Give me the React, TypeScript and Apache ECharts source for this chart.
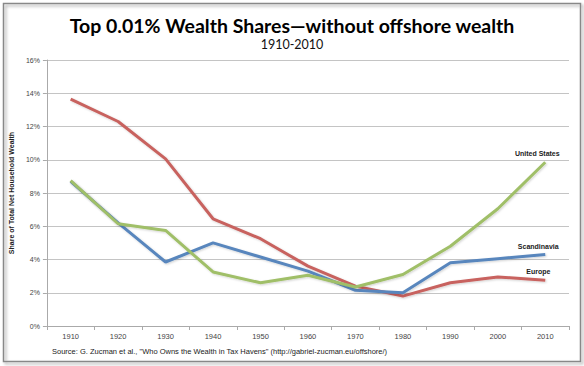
import React, { useEffect, useRef } from "react";
import * as echarts from "echarts";

const years = ["1910", "1920", "1930", "1940", "1950", "1960", "1970", "1980", "1990", "2000", "2010"];
const europe = [13.65, 12.3, 10.05, 6.45, 5.25, 3.6, 2.4, 1.8, 2.6, 2.95, 2.75];
const scandinavia = [8.7, 6.2, 3.85, 5.0, 4.15, 3.3, 2.15, 2.0, 3.8, 4.05, 4.3];
const unitedStates = [8.75, 6.15, 5.75, 3.25, 2.6, 3.05, 2.35, 3.1, 4.8, 7.05, 9.85];
const seriesNames = ["Europe", "Scandinavia", "United States"];
const seriesColors = ["#c8625e", "#5886bd", "#a0bf68"];
const labelOffsets: [number, number][] = [[-7, -5], [-7, -5], [-8, -5]];

export default function App() {
  const ref = useRef<HTMLDivElement>(null);
  useEffect(() => {
    if (!ref.current) return;
    const chart = echarts.init(ref.current, null, { renderer: "svg" });
    const all = [europe, scandinavia, unitedStates];
    const series = all.map((vals, si) => ({
      name: seriesNames[si],
      type: "line",
      symbol: "none",
      z: si + 1,
      lineStyle: {
        color: seriesColors[si],
        width: 3,
        shadowColor: "rgba(0,0,0,0.18)",
        shadowBlur: 2,
        shadowOffsetX: 1,
        shadowOffsetY: 1,
      },
      itemStyle: { color: seriesColors[si] },
      endLabel: {
        show: true,
        formatter: seriesNames[si],
        distance: 0,
        align: "center",
        verticalAlign: "bottom",
        offset: labelOffsets[si],
        fontFamily: "Liberation Sans",
        fontSize: 7,
        fontWeight: "bold",
        color: "#222",
      },
      data: vals,
    }));
    chart.setOption({
      animation: false,
      backgroundColor: "#fff",
      title: {
        text: "Top 0.01% Wealth Shares\u2014without offshore wealth",
        subtext: "1910-2010",
        left: "center",
        top: 10,
        itemGap: 3,
        textStyle: { fontFamily: "Lato", fontWeight: "bold", fontSize: 19.5, color: "#000" },
        subtextStyle: { fontFamily: "Lato", fontSize: 12.5, color: "#111" },
      },
      grid: { left: 42, right: 15, top: 60, bottom: 40 },
      xAxis: {
        type: "category",
        data: years,
        boundaryGap: true,
        axisLine: { lineStyle: { color: "#aaa" } },
        axisTick: { show: true, length: 4, lineStyle: { color: "#aaa" } },
        axisLabel: { fontFamily: "Liberation Sans", fontSize: 7.5, color: "#444", margin: 6 },
      },
      yAxis: {
        type: "value",
        min: 0,
        max: 16,
        interval: 2,
        name: "Share of Total Net Household Wealth",
        nameLocation: "middle",
        nameGap: 19,
        nameTextStyle: { fontFamily: "Liberation Sans", fontSize: 7, fontWeight: "bold", color: "#222" },
        axisLine: { show: true, lineStyle: { color: "#aaa" } },
        axisTick: { show: true, length: 4, lineStyle: { color: "#aaa" } },
        axisLabel: { formatter: "{value}%", fontFamily: "Liberation Sans", fontSize: 7, color: "#444", margin: 7 },
        splitLine: { lineStyle: { color: "#c4c4c4", width: 1 } },
      },
      series,
      graphic: [
        {
          type: "rect",
          left: 1,
          top: 1,
          shape: { width: 577, height: 358 },
          style: {
            fill: "none",
            stroke: "#888",
            lineWidth: 1.5,
            shadowColor: "rgba(0,0,0,0.35)",
            shadowBlur: 3,
            shadowOffsetX: 2,
            shadowOffsetY: 2,
          },
          silent: true,
          z: -1,
        },
        {
          type: "text",
          left: 52,
          top: 347,
          style: {
            text: 'Source: G. Zucman et al., "Who Owns the Wealth in Tax Havens" (http://gabriel-zucman.eu/offshore/)',
            font: "7.5px 'Liberation Sans'",
            fill: "#222",
          },
        },
      ],
    });
    return () => chart.dispose();
  }, []);
  return <div ref={ref} style={{ width: 584, height: 366, position: "absolute", left: 0, top: 0 }} />;
}
